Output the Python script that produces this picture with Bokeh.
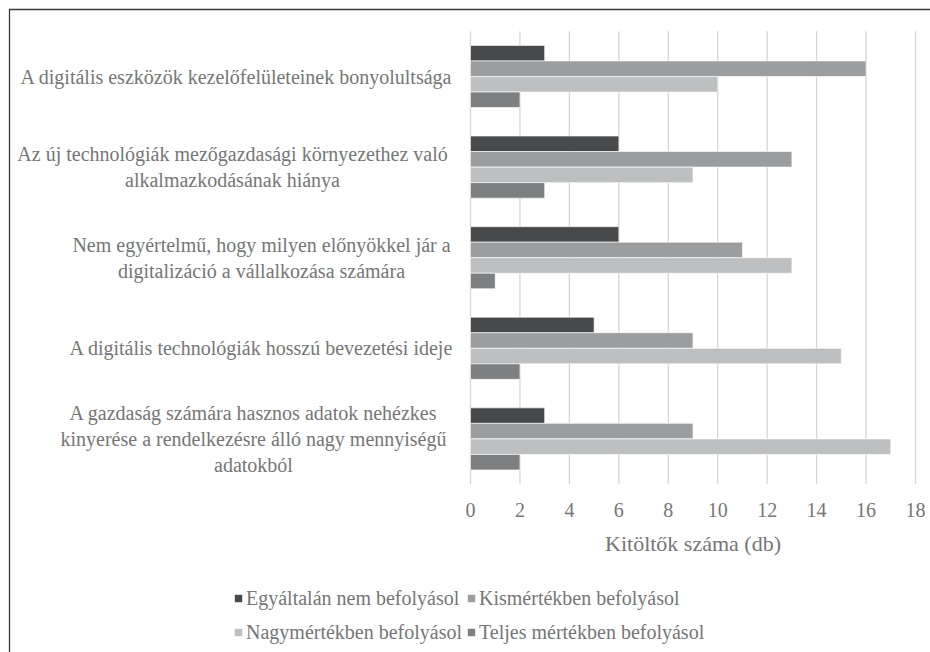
from bokeh.plotting import figure
from bokeh.models import ColumnDataSource, Range1d, Legend, LegendItem
from bokeh.transform import dodge
from bokeh.core.properties import value
from bokeh.embed import file_html
from bokeh.resources import INLINE

# ---- data ----
categories = [
    "A digitális eszközök kezelőfelületeinek bonyolultsága",
    "Az új technológiák mezőgazdasági környezethez való alkalmazkodásának hiánya",
    "Nem egyértelmű, hogy milyen előnyökkel jár a digitalizáció a vállalkozása számára",
    "A digitális technológiák hosszú bevezetési ideje",
    "A gazdaság számára hasznos adatok nehézkes kinyerése a rendelkezésre álló nagy mennyiségű adatokból",
]
category_labels = [
    "A digitális eszközök kezelőfelületeinek bonyolultsága",
    "Az új technológiák mezőgazdasági környezethez való\nalkalmazkodásának hiánya",
    "Nem egyértelmű, hogy milyen előnyökkel jár a\ndigitalizáció a vállalkozása számára",
    "A digitális technológiák hosszú bevezetési ideje",
    "A gazdaság számára hasznos adatok nehézkes\nkinyerése a rendelkezésre álló nagy mennyiségű\nadatokból",
]
series_names = [
    "Egyáltalán nem befolyásol",
    "Kismértékben befolyásol",
    "Nagymértékben befolyásol",
    "Teljes mértékben befolyásol",
]
egyaltalan_nem = [3, 6, 6, 5, 3]
kismertekben = [16, 13, 11, 9, 9]
nagymertekben = [10, 9, 13, 15, 17]
teljes_mertekben = [2, 3, 1, 2, 2]
x_ticks = [0, 2, 4, 6, 8, 10, 12, 14, 16, 18]
x_axis_title = "Kitöltők száma (db)"

# ---- layout / styles ----
W, H = 930, 652
X0_PX, X18_PX = 470.0, 915.0          # pixel of x=0 and x=18
PX_PER_X = (X18_PX - X0_PX) / 18.0
CAT0_PX, PX_PER_CAT = 76.0, 90.6      # pixel of first category centre, band size
colors = ["#48494b", "#9c9d9f", "#bebfc1", "#7e7f81"]
offsets = [0.257, 0.086, -0.086, -0.257]
bar_h = 0.171
font = "'Liberation Serif', 'Times New Roman', serif"
text_color = "#767676"
label_center_px = [236, 232, 261, 261, 253]


def px_x(px):
    return (px - X0_PX) / PX_PER_X


def px_y(py):
    return (len(categories) - 1) - (py - CAT0_PX) / PX_PER_CAT


n = len(categories)
ypos = [n - 1 - i for i in range(n)]
src = ColumnDataSource(dict(
    y=ypos,
    s0=egyaltalan_nem, s1=kismertekben, s2=nagymertekben, s3=teljes_mertekben,
    label=category_labels, lx=[px_x(c) for c in label_center_px],
))

p = figure(width=W, height=H, output_backend="svg", toolbar_location=None,
           x_range=Range1d(px_x(0), px_x(W)), y_range=Range1d(px_y(H), px_y(0)),
           x_axis_location=None, y_axis_location=None,
           min_border=0)
p.outline_line_color = None
p.grid.visible = False
p.background_fill_color = "white"
p.border_fill_color = "white"

# frame border of the chart area (top and left)
p.line(x=[px_x(9), px_x(9), px_x(W + 5)], y=[px_y(H + 5), px_y(9), px_y(9)],
       line_color="#3a3a3a", line_width=1.3)

# vertical gridlines
gsrc = ColumnDataSource(dict(x=x_ticks, lbl=[str(t) for t in x_ticks]))
p.segment(x0="x", x1="x", y0=-0.5, y1=n - 0.5, source=gsrc,
          line_color="#d6d6d6", line_width=1.3)

renderers = []
for i, key in enumerate(["s0", "s1", "s2", "s3"]):
    r = p.hbar(y=dodge("y", offsets[i]), right=key, left=0,
               height=bar_h, source=src, fill_color=colors[i],
               line_color="white", line_width=0.6)
    renderers.append(r)

# tick labels and axis title
p.text(x="x", y=px_y(509), text="lbl", source=gsrc, text_align="center",
       text_baseline="middle", text_font=value(font), text_font_size="20px",
       text_color=text_color)
p.text(x=[9], y=[px_y(543)], text=[x_axis_title], text_align="center",
       text_baseline="middle", text_font=value(font), text_font_size="22px",
       text_color=text_color)

# category labels
p.text(x="lx", y="y", text="label", source=src, text_align="center",
       text_baseline="middle", text_font=value(font), text_font_size="20px",
       text_color=text_color, text_line_height=1.17)

legend = Legend(items=[LegendItem(label=series_names[i], renderers=[renderers[i]])
                       for i in range(4)],
                location=(233, 3), orientation="horizontal", ncols=2,
                glyph_width=10, glyph_height=10, label_standoff=3,
                label_width=220, label_height=34,
                spacing=0, padding=0, margin=0,
                label_text_font=font, label_text_font_size="20px",
                label_text_color=text_color, border_line_color=None,
                background_fill_alpha=0)
p.add_layout(legend, "center")

open("out.html", "w").write(file_html(p, INLINE))
